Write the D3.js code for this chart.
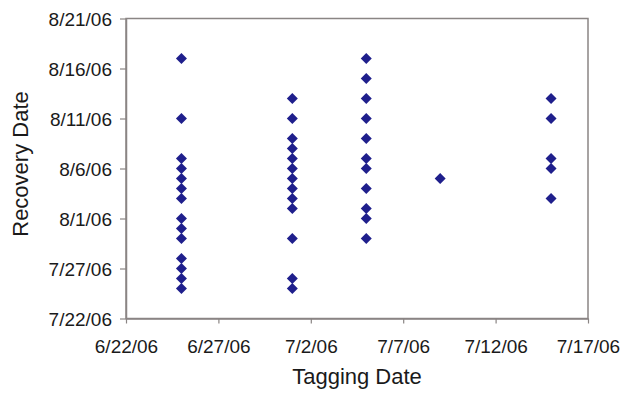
<!DOCTYPE html>
<html><head><meta charset="utf-8">
<script src="https://cdn.jsdelivr.net/npm/d3@7"></script>
<style>html,body{margin:0;padding:0;background:#fff;}svg{display:block;font-family:"Liberation Sans",Arial,sans-serif;}</style>
</head><body><svg id="c" width="620" height="394"></svg>
<script>
// Tagging date (x) and recovery dates (y) for each tagging group
const taggingDates = ["2006-06-25","2006-07-01","2006-07-05","2006-07-09","2006-07-15"];
const recovery0625 = ["2006-08-17","2006-08-11","2006-08-07","2006-08-06","2006-08-05","2006-08-04","2006-08-03","2006-08-01","2006-07-31","2006-07-30","2006-07-28","2006-07-27","2006-07-26","2006-07-25"];
const recovery0701 = ["2006-08-13","2006-08-11","2006-08-09","2006-08-08","2006-08-07","2006-08-06","2006-08-05","2006-08-04","2006-08-03","2006-08-02","2006-07-30","2006-07-26","2006-07-25"];
const recovery0705 = ["2006-08-17","2006-08-15","2006-08-13","2006-08-11","2006-08-09","2006-08-07","2006-08-06","2006-08-04","2006-08-02","2006-08-01","2006-07-30"];
const recovery0709 = ["2006-08-05"];
const recovery0715 = ["2006-08-13","2006-08-11","2006-08-07","2006-08-06","2006-08-03"];
const xTicks = ["2006-06-22","2006-06-27","2006-07-02","2006-07-07","2006-07-12","2006-07-17"];
const yTicks = ["2006-07-22","2006-07-27","2006-08-01","2006-08-06","2006-08-11","2006-08-16","2006-08-21"];
const xLabel = "Tagging Date";
const yLabel = "Recovery Date";

const parse = d3.utcParse("%Y-%m-%d");
const fmt = d => `${d.getUTCMonth()+1}/${d.getUTCDate()}/${String(d.getUTCFullYear()).slice(2)}`;
const groups = [recovery0625, recovery0701, recovery0705, recovery0709, recovery0715];
const points = [];
groups.forEach((g,i) => g.forEach(r => points.push({x: parse(taggingDates[i]), y: parse(r)})));

const L = 126, R = 588, T = 18.5, B = 318.5;
const x = d3.scaleUtc().domain([parse(xTicks[0]), parse(xTicks[xTicks.length-1])]).range([L, R]);
const y = d3.scaleUtc().domain([parse(yTicks[0]), parse(yTicks[yTicks.length-1])]).range([B, T]);

const svg = d3.select("#c");
const axisColor = "#8a8584";
const tickFont = "19px";

// frame
svg.append("rect").attr("x", L).attr("y", T).attr("width", R-L).attr("height", B-T)
  .attr("fill", "none").attr("stroke", axisColor).attr("stroke-width", 1.5);

const xAxis = svg.append("g").attr("transform", `translate(0,${B})`)
  .call(d3.axisBottom(x).tickValues(xTicks.map(parse)).tickFormat(fmt).tickSize(5).tickSizeOuter(0).tickPadding(16));
const yAxis = svg.append("g").attr("transform", `translate(${L},0)`)
  .call(d3.axisLeft(y).tickValues(yTicks.map(parse)).tickFormat(fmt).tickSize(6).tickSizeOuter(0).tickPadding(8));
[xAxis, yAxis].forEach(a => {
  a.select(".domain").attr("stroke", axisColor).attr("stroke-width", 1.5);
  a.selectAll(".tick line").attr("stroke", axisColor).attr("stroke-width", 1.2);
  a.selectAll("text").attr("fill", "#1a1a1a").style("font-size", tickFont).style("font-family", '"Liberation Sans",Arial,sans-serif');
});
yAxis.selectAll("text").attr("dy", "0.36em");

svg.append("text").attr("x", (L+R)/2).attr("y", 384).attr("text-anchor", "middle")
  .style("font-size", "22px").attr("fill", "#1a1a1a").text(xLabel);
svg.append("text").attr("transform", `translate(28,164) rotate(-90)`).attr("text-anchor", "middle")
  .style("font-size", "22px").attr("fill", "#1a1a1a").text(yLabel);

const h = 5.5;
svg.append("g").selectAll("path").data(points).join("path")
  .attr("transform", d => `translate(${x(d.x)},${y(d.y)})`)
  .attr("d", `M0,${-h}L${h},0L0,${h}L${-h},0Z`)
  .attr("fill", "#1f1f8c");
</script></body></html>
